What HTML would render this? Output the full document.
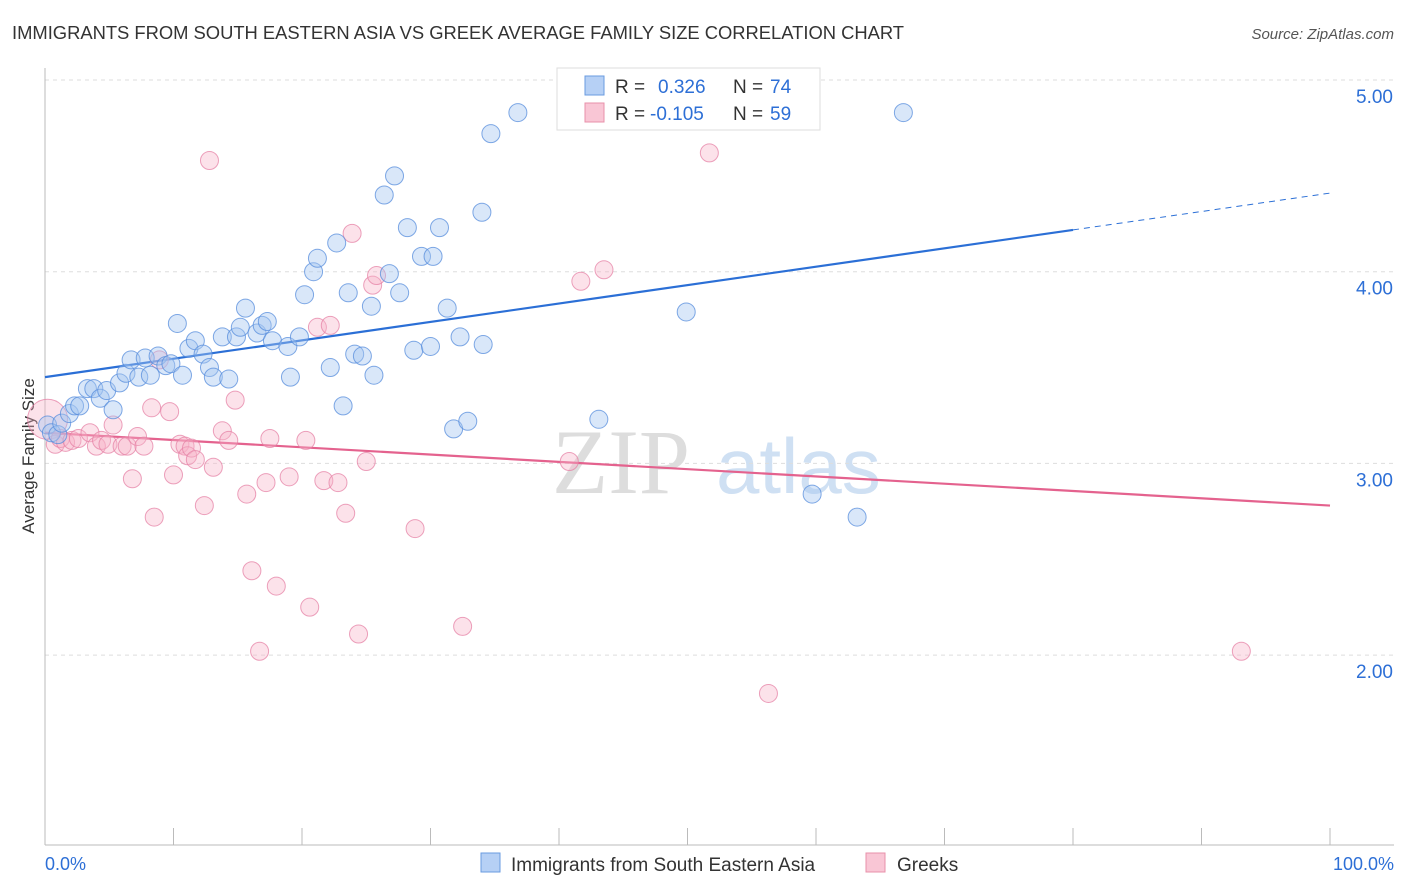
<!DOCTYPE html>
<html><head><meta charset="utf-8"><style>
body{margin:0;background:#fff;font-family:"Liberation Sans",sans-serif}
#wrap{position:relative;width:1406px;height:892px;overflow:hidden}
</style></head><body><div id="wrap">
<svg id="svg" width="1406" height="892" xmlns="http://www.w3.org/2000/svg">
<text x="12" y="39" font-size="18.4" fill="#333" textLength="892">IMMIGRANTS FROM SOUTH EASTERN ASIA VS GREEK AVERAGE FAMILY SIZE CORRELATION CHART</text>
<text x="1394" y="39" font-size="15" fill="#555" font-style="italic" text-anchor="end">Source: ZipAtlas.com</text>
<text x="34" y="456" font-size="17" fill="#333" text-anchor="middle" transform="rotate(-90 34 456)">Average Family Size</text>
<g><text x="552" y="493" font-size="92" fill="#ddd" font-family="Liberation Serif,serif">ZIP</text><text x="716" y="493" font-size="78" fill="#cfe0f3">atlas</text></g>
<g id="grid"></g><g id="axes"></g><g id="lines"></g><g id="pts"></g>
<g>
<rect x="557" y="68" width="263" height="62" fill="#fff" stroke="#ddd"/>
<rect x="585" y="76" width="19" height="19" fill="#b6d0f5" stroke="#6a9be0"/>
<text x="615" y="93" font-size="19" fill="#333">R =</text><text x="658" y="93" font-size="19" fill="#2d6fd6">0.326</text>
<text x="733" y="93" font-size="19" fill="#333">N =</text><text x="770" y="93" font-size="19" fill="#2d6fd6">74</text>
<rect x="585" y="103" width="19" height="19" fill="#f9c6d5" stroke="#e890aa"/>
<text x="615" y="120" font-size="19" fill="#333">R =</text><text x="650" y="120" font-size="19" fill="#2d6fd6">-0.105</text>
<text x="733" y="120" font-size="19" fill="#333">N =</text><text x="770" y="120" font-size="19" fill="#2d6fd6">59</text>
</g>
<g>
<rect x="481" y="853" width="19" height="19" fill="#b6d0f5" stroke="#6a9be0"/>
<text x="511" y="871" font-size="19" fill="#333">Immigrants from South Eastern Asia</text>
<rect x="866" y="853" width="19" height="19" fill="#f9c6d5" stroke="#e890aa"/>
<text x="897" y="871" font-size="19" fill="#333">Greeks</text>
</g>
<text x="45" y="870" font-size="18" fill="#2d6fd6">0.0%</text>
<text x="1394" y="870" font-size="18" fill="#2d6fd6" text-anchor="end">100.0%</text>
</svg></div>
<script>
const yTicks=[5,4,3,2];
const yTickLabels=["5.00","4.00","3.00","2.00"];
const xTicks=[0,10,20,30,40,50,60,70,80,90,100];
const blueX=[0.2,0.5,1.0,1.3,1.9,2.3,2.7,3.3,3.8,4.3,4.8,5.3,5.8,6.3,6.7,7.3,7.8,8.2,8.8,9.4,9.8,10.3,10.7,11.2,11.7,12.3,12.8,13.1,13.8,14.3,14.9,15.2,15.6,16.5,16.9,17.3,17.7,18.9,19.1,19.8,20.2,20.9,21.2,22.2,22.7,23.2,23.6,24.1,24.7,25.4,25.6,26.4,26.8,27.2,27.6,28.2,28.7,29.3,30.0,30.2,30.7,31.3,31.8,32.3,32.9,34.0,34.1,34.7,36.8,43.1,49.9,59.7,63.2,66.8];
const blueY=[3.20,3.16,3.15,3.21,3.26,3.30,3.30,3.39,3.39,3.34,3.38,3.28,3.42,3.47,3.54,3.45,3.55,3.46,3.56,3.51,3.52,3.73,3.46,3.60,3.64,3.57,3.50,3.45,3.66,3.44,3.66,3.71,3.81,3.68,3.72,3.74,3.64,3.61,3.45,3.66,3.88,4.00,4.07,3.50,4.15,3.30,3.89,3.57,3.56,3.82,3.46,4.40,3.99,4.50,3.89,4.23,3.59,4.08,3.61,4.08,4.23,3.81,3.18,3.66,3.22,4.31,3.62,4.72,4.83,3.23,3.79,2.84,2.72,4.83];
const pinkX=[0.2,0.8,1.2,1.6,2.1,2.6,3.5,4.0,4.4,4.9,5.3,6.0,6.4,6.8,7.2,7.7,8.3,8.5,8.9,9.7,10.0,10.5,10.9,11.1,11.4,11.7,12.4,12.8,13.1,13.8,14.3,14.8,15.7,16.1,16.7,17.2,17.5,18.0,19.0,20.3,20.6,21.2,21.7,22.2,22.8,23.4,23.9,24.4,25.0,25.5,25.8,28.8,32.5,40.8,41.7,43.5,51.7,56.3,93.1];
const pinkY=[3.23,3.10,3.13,3.11,3.12,3.13,3.16,3.09,3.12,3.10,3.20,3.09,3.09,2.92,3.14,3.09,3.29,2.72,3.54,3.27,2.94,3.10,3.09,3.04,3.08,3.02,2.78,4.58,2.98,3.17,3.12,3.33,2.84,2.44,2.02,2.90,3.13,2.36,2.93,3.12,2.25,3.71,2.91,3.72,2.90,2.74,4.20,2.11,3.01,3.93,3.98,2.66,2.15,3.01,3.95,4.01,4.62,1.80,2.02];
const blueTrend=[3.45,4.41];
const pinkTrend=[3.16,2.78];
const NS="http://www.w3.org/2000/svg";
const X=v=>45+v*12.85, Y=v=>80+(5-v)*191.7;
function mk(t,a,p){const e=document.createElementNS(NS,t);for(const k in a)e.setAttribute(k,a[k]);p.appendChild(e);return e;}
const grid=document.getElementById('grid'),axes=document.getElementById('axes'),lines=document.getElementById('lines'),pts=document.getElementById('pts');
yTicks.forEach((t,i)=>{
 const l=mk('line',{x1:45,x2:1394,y1:Y(t),y2:Y(t),stroke:'#ddd','stroke-dasharray':'4,4'},grid);
 
 
 const tx=mk('text',{x:1393,y:Y(t)+23,'font-size':19,fill:'#2d6fd6','text-anchor':'end'},grid);
 tx.textContent=yTickLabels[i];
 
 
});
const ax=mk('line',{x1:45,x2:45,y1:68,y2:845,stroke:'#bbb'},axes);


const bx=mk('line',{x1:45,x2:1394,y1:845,y2:845,stroke:'#bbb'},axes);


xTicks.forEach(t=>{
 const k=mk('line',{x1:X(t),x2:X(t),y1:828,y2:845,stroke:'#bbb'},axes);
 
 
});
function trend(tr,col,x2,dash){
 const f=x=>tr[0]+(tr[1]-tr[0])*x/100;
 const a=mk('line',{x1:X(0),y1:Y(f(0)),x2:X(x2),y2:Y(f(x2)),stroke:col,'stroke-width':2.2},lines);
 
 
 if(dash){const b=mk('line',{x1:X(x2),y1:Y(f(x2)),x2:X(100),y2:Y(f(100)),stroke:col,'stroke-width':1,'stroke-dasharray':'6,5'},lines);
 
 }
}
trend(blueTrend,'#2b6fd6',80,true);
trend(pinkTrend,'#e4628e',100,false);
pinkX.forEach((x,i)=>{
 const c=mk('circle',{cx:X(x),cy:Y(pinkY[i]),r:i===0?20:9,fill:'rgba(246,178,200,0.38)',stroke:'rgba(230,130,165,0.75)','stroke-width':1},pts);
 
 
});
blueX.forEach((x,i)=>{
 const c=mk('circle',{cx:X(x),cy:Y(blueY[i]),r:9,fill:'rgba(165,198,240,0.42)',stroke:'rgba(85,140,220,0.75)','stroke-width':1},pts);
 
 
});
</script></body></html>
